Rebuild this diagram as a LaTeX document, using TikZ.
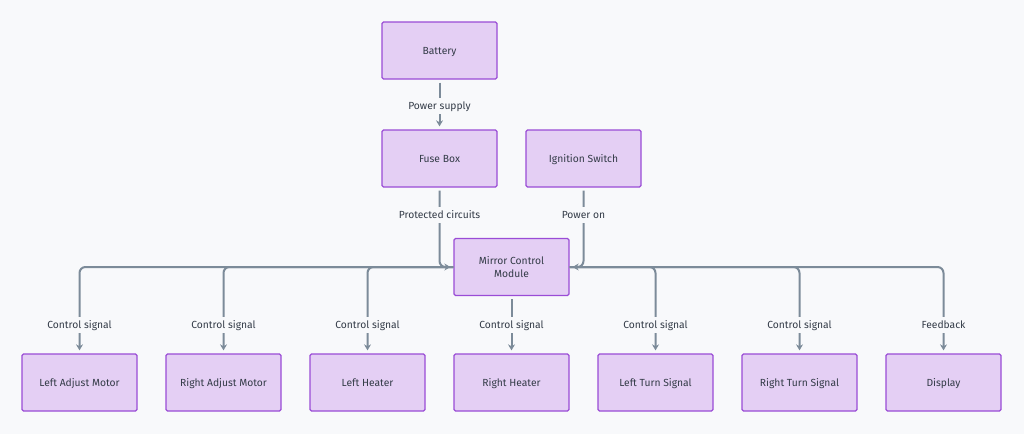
\documentclass[tikz,border=0pt]{standalone}
\usepackage{fontspec}
\setmainfont{Fira Sans}
\usetikzlibrary{arrows.meta}
\definecolor{bgc}{HTML}{F8F9FB}
\definecolor{boxfill}{HTML}{E4CFF4}
\definecolor{boxdraw}{HTML}{9A4CD6}
\definecolor{linec}{HTML}{7C8B99}
\definecolor{txt}{HTML}{333B47}
\tikzset{
  box/.style={draw=boxdraw, fill=boxfill, line width=1.3pt, rounded corners=1.5pt,
    minimum width=115pt, minimum height=57pt, inner sep=0pt, align=center,
    font=\fontsize{10.3}{13}\selectfont, text=txt, text height=9.6pt, text depth=2.4pt},
  conn/.style={draw=linec, line width=2pt, rounded corners=6pt,
    -{Stealth[length=6pt,width=7pt]}},
  lbl/.style={fill=bgc, inner sep=2pt, font=\fontsize{10.3}{12}\selectfont, text=txt,
    text height=9.6pt, text depth=2.4pt}
}
\begin{document}
\begin{tikzpicture}[x=1pt,y=-1pt]
\fill[bgc] (0,0) rectangle (1024,434);
\useasboundingbox (0,0) rectangle (1024,434);
\node[box] (bat) at (439.5,50.5) {Battery};
\node[box] (fuse) at (439.5,158.5) {Fuse Box};
\node[box] (ign) at (583.5,158.5) {Ignition Switch};
\node[box, text height=, text depth=] (mcm) at (511.5,267) {Mirror Control\\Module};
\node[box] (lam) at (79.5,382.5) {Left Adjust Motor};
\node[box] (ram) at (223.5,382.5) {Right Adjust Motor};
\node[box] (lh) at (367.5,382.5) {Left Heater};
\node[box] (rh) at (511.5,382.5) {Right Heater};
\node[box] (lts) at (655.5,382.5) {Left Turn Signal};
\node[box] (rts) at (799.5,382.5) {Right Turn Signal};
\node[box] (disp) at (943.5,382.5) {Display};

\draw[conn] ([yshift=-3pt]bat.south) -- ([yshift=3pt]fuse.north);
\draw[conn] ([yshift=-3pt]fuse.south) |- ([xshift=-3pt]mcm.west);
\draw[conn] ([yshift=-3pt]ign.south) |- ([xshift=3pt]mcm.east);
\draw[conn] (mcm.west) -| ([yshift=3pt]lam.north);
\draw[conn] (mcm.west) -| ([yshift=3pt]ram.north);
\draw[conn] (mcm.west) -| ([yshift=3pt]lh.north);
\draw[conn] ([yshift=-3pt]mcm.south) -- ([yshift=3pt]rh.north);
\draw[conn] (mcm.east) -| ([yshift=3pt]lts.north);
\draw[conn] (mcm.east) -| ([yshift=3pt]rts.north);
\draw[conn] (mcm.east) -| ([yshift=3pt]disp.north);

\node[lbl] (t1) at (439.5,106) {Power supply};
\node[lbl] (t2) at (439.5,215) {Protected circuits};
\node[lbl] (t3) at (583.5,215) {Power on};
\node[lbl] (t4) at (79.5,325) {Control signal};
\node[lbl] (t5) at (223.5,325) {Control signal};
\node[lbl] (t6) at (367.5,325) {Control signal};
\node[lbl] (t7) at (511.5,325) {Control signal};
\node[lbl] (t8) at (655.5,325) {Control signal};
\node[lbl] (t9) at (799.5,325) {Control signal};
\node[lbl] (t10) at (943.5,325) {Feedback};
\end{tikzpicture}
\end{document}
